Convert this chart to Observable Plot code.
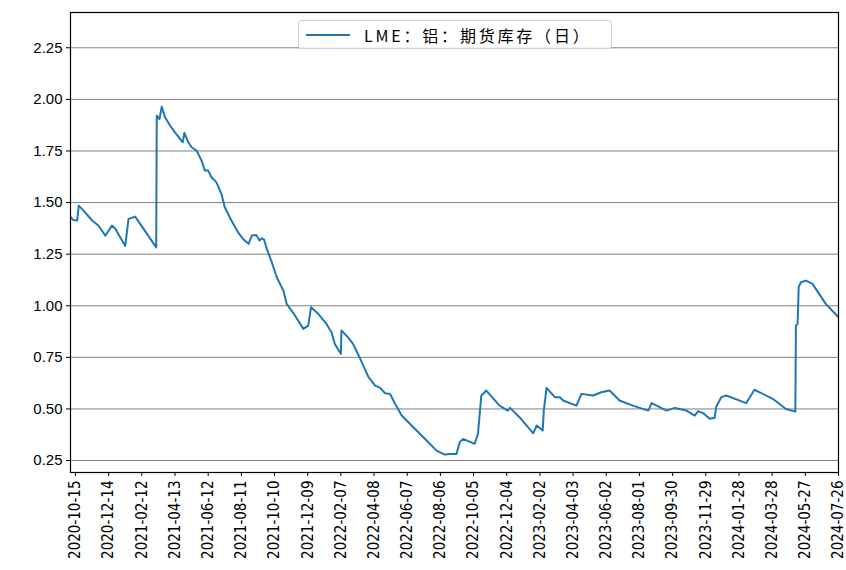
<!DOCTYPE html>
<html>
<head>
<meta charset="utf-8">
<script src="https://cdn.jsdelivr.net/npm/d3@7"></script>
<script src="https://cdn.jsdelivr.net/npm/@observablehq/plot@0.6"></script>
<style>
  html, body { margin: 0; padding: 0; background: #fff; }
  #wrap { position: relative; width: 846px; height: 570px; }
  #legend {
    position: absolute; left: 298px; top: 20px; width: 314px; height: 29px;
    box-sizing: border-box; border: 1px solid #d0d0d0; border-radius: 3px;
    background: rgba(255,255,255,0.85);
    font-family: "Noto Sans CJK SC", sans-serif; font-size: 16px; color: #000;
    display: flex; align-items: center;
  }
  #legend .sw { width: 44px; height: 0; border-top: 2px solid #1f77b4; margin-left: 7px; margin-right: 14px; }
  #legend .tx { letter-spacing: 2.8px; white-space: nowrap; }
</style>
</head>
<body>
<div id="wrap"><div id="legend"><span class="sw"></span><span class="tx">LME：铝：期货库存（日）</span></div></div>
<script>
const seriesName = "LME：铝：期货库存（日）";
const dates = [
  "2020-10-06","2020-10-11","2020-10-18","2020-10-21","2020-10-30","2020-11-14","2020-11-25","2020-12-08",
  "2020-12-20","2020-12-26","2021-01-13","2021-01-19","2021-01-31","2021-02-09","2021-03-10","2021-03-11",
  "2021-03-16","2021-03-20","2021-03-26","2021-04-04","2021-04-13","2021-04-27","2021-04-30","2021-05-07",
  "2021-05-13","2021-05-22","2021-05-31","2021-06-06","2021-06-12","2021-06-18","2021-06-27","2021-07-06",
  "2021-07-12","2021-07-24","2021-08-05","2021-08-14","2021-08-24","2021-08-30","2021-09-07","2021-09-13",
  "2021-09-17","2021-09-21","2021-09-26","2021-10-05","2021-10-14","2021-10-26","2021-11-01","2021-11-16",
  "2021-12-01","2021-12-10","2021-12-15","2021-12-28","2022-01-12","2022-01-21","2022-01-27","2022-02-07",
  "2022-02-08","2022-02-20","2022-03-01","2022-03-14","2022-03-29","2022-04-10","2022-04-19","2022-04-28",
  "2022-05-07","2022-05-16","2022-05-28","2022-06-18","2022-07-12","2022-07-30","2022-08-14","2022-08-23",
  "2022-09-04","2022-09-10","2022-09-16","2022-10-07","2022-10-13","2022-10-19",
  "2022-10-28","2022-11-21","2022-12-06","2022-12-10","2022-12-27","2023-01-21","2023-01-27",
  "2023-02-07","2023-02-09","2023-02-14","2023-03-01","2023-03-10","2023-03-16","2023-04-09","2023-04-18",
  "2023-05-09","2023-05-24","2023-06-08","2023-06-26","2023-07-20","2023-08-17","2023-08-23","2023-09-19",
  "2023-10-04","2023-10-25","2023-11-09","2023-11-15","2023-11-24","2023-12-06","2023-12-15","2023-12-18",
  "2023-12-27","2024-01-05","2024-02-10","2024-02-25","2024-03-29","2024-04-22","2024-05-09","2024-05-10",
  "2024-05-13","2024-05-15","2024-05-19","2024-05-28","2024-06-09","2024-07-03","2024-07-26"
];
const values = [
  1.43,1.415,1.413,1.485,1.46,1.413,1.39,1.34,
  1.389,1.373,1.29,1.421,1.432,1.397,1.283,1.921,
  1.905,1.965,1.913,1.873,1.84,1.792,1.838,1.792,
  1.768,1.752,1.703,1.655,1.655,1.623,1.598,1.542,
  1.477,1.413,1.356,1.324,1.30,1.34,1.343,1.316,
  1.327,1.321,1.276,1.211,1.138,1.074,1.009,0.953,
  0.888,0.904,0.993,0.961,0.912,0.872,0.815,0.767,
  0.88,0.847,0.815,0.743,0.654,0.613,0.602,0.576,
  0.573,0.525,0.468,0.411,0.347,0.298,0.279,0.282,
  0.282,0.339,0.355,0.331,0.38,0.565,
  0.589,0.516,0.492,0.505,0.46,0.382,0.42,
  0.395,0.492,0.602,0.557,0.557,0.541,0.516,0.573,
  0.565,0.581,0.589,0.541,0.516,0.492,0.528,0.492,
  0.505,0.492,0.468,0.489,0.48,0.452,0.457,0.512,
  0.557,0.565,0.528,0.593,0.549,0.50,0.487,0.904,
  0.912,1.09,1.114,1.122,1.106,1.009,0.944
];
const xTickLabels = [
  "2020-10-15","2020-12-14","2021-02-12","2021-04-13","2021-06-12","2021-08-11","2021-10-10","2021-12-09",
  "2022-02-07","2022-04-08","2022-06-07","2022-08-06","2022-10-05","2022-12-04","2023-02-02","2023-04-03",
  "2023-06-02","2023-08-01","2023-09-30","2023-11-29","2024-01-28","2024-03-28","2024-05-27","2024-07-26"
];
const yTicks = [0.25, 0.5, 0.75, 1.0, 1.25, 1.5, 1.75, 2.0, 2.25];
const xDomain = ["2020-10-06", "2024-07-26"];
const yDomain = [0.192, 2.421];

const data = dates.map((d, i) => ({date: new Date(d), value: values[i]}));
const xTicks = xTickLabels.map(s => new Date(s));

const chart = Plot.plot({
  width: 846, height: 570,
  marginLeft: 70, marginRight: 8, marginTop: 12, marginBottom: 98,
  style: {fontFamily: "'Liberation Sans', sans-serif", fontSize: "15px", background: "white", color: "black"},
  x: {type: "utc", domain: xDomain.map(s => new Date(s))},
  y: {domain: yDomain},
  marks: [
    Plot.gridY(yTicks, {stroke: "#808080", strokeOpacity: 1, strokeWidth: 1}),
    Plot.line(data, {x: "date", y: "value", stroke: "#1f77b4", strokeWidth: 2, clip: true}),
    Plot.frame({stroke: "black", strokeWidth: 1.2}),
    Plot.axisX(xTicks, {
      tickRotate: -90, tickSize: 4, tickPadding: 4, label: null,
      tickFormat: d => d3.utcFormat("%Y-%m-%d")(d),
      fontFamily: "'Liberation Sans Narrow', 'DejaVu Sans Condensed', sans-serif",
      fontSize: 15
    }),
    Plot.axisY(yTicks, {tickSize: 4, tickPadding: 4, label: null, tickFormat: d3.format(".2f"), fontSize: 15})
  ]
});
document.getElementById("wrap").prepend(chart);
</script>
</body>
</html>
